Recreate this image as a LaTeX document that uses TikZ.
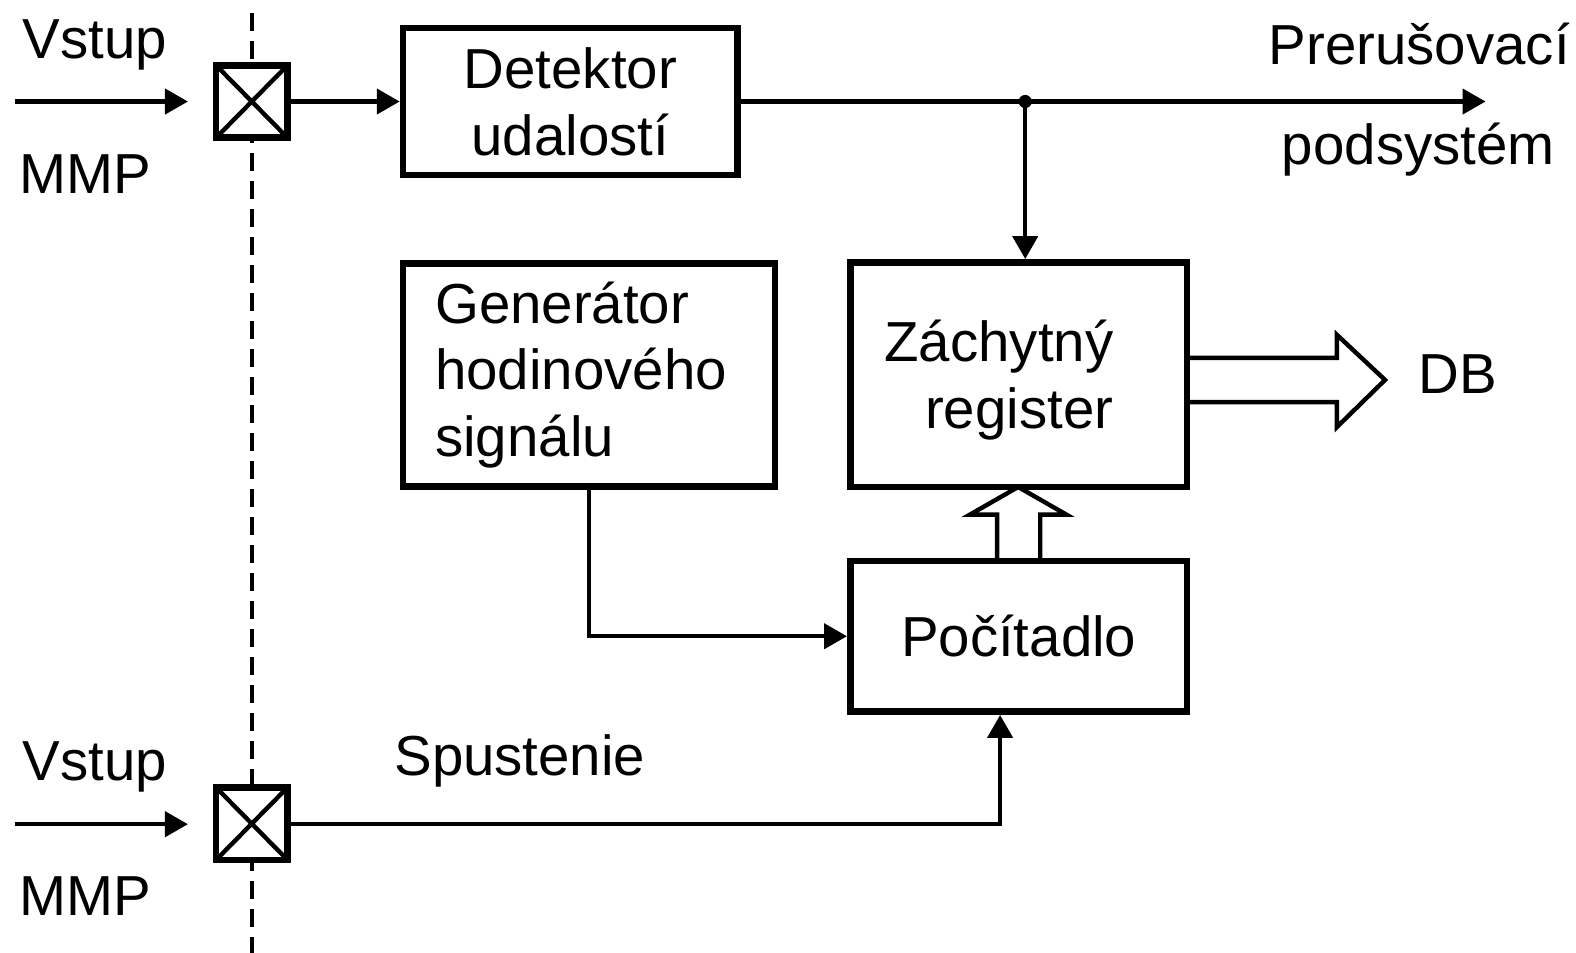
\documentclass[tikz,border=0pt]{standalone}
\usepackage{fontspec}
\setmainfont{Liberation Sans}
\usetikzlibrary{arrows.meta}
\newlength\pxu
\setlength\pxu{0.50255pt}
\begin{document}
\begin{tikzpicture}[x=0.50255pt, y=-0.50255pt,
  font=\fontsize{28.2pt}{33.4pt}\selectfont,
  box/.style={draw, line width=3.3pt, fill=white, inner sep=0pt},
  pinbox/.style={box, outer sep=0pt, minimum width=71\pxu, minimum height=72\pxu},
  wire/.style={line width=2.2pt},
  conn/.style={wire, -{Triangle[length=11.5pt,width=12.5pt]}},
  bus/.style={line width=2.2pt, line join=miter},
  lbl/.style={inner sep=0pt, anchor=base west}]
\useasboundingbox (0,0) rectangle (1568,948);

% boundary of the module (dashed)
\coordinate (dtop) at (250.5,13);
\coordinate (dbot) at (250.5,948);
\draw[wire, dash pattern=on 9pt off 5pt] (dtop) -- (dbot);

% input pins
\node[pinbox] (pin1) at (250.5,101) {};
\node[pinbox] (pin2) at (250.5,819.5) {};
\foreach \p in {pin1,pin2}
  \draw[wire] (\p.north west) -- (\p.south east) (\p.south west) -- (\p.north east);

% functional blocks
\node[box, minimum width=333\pxu, minimum height=146\pxu, align=center] (det) at (567.5,101) {Detektor\\udalostí};
\node[box, minimum width=370\pxu, minimum height=222\pxu, align=left, text width=306\pxu] (gen) at (586,373) {Generátor\\hodinového\\signálu};
\node[box, minimum width=335\pxu, minimum height=223.5\pxu] (reg) at (1013.5,372.75) {};
\node[inner sep=0pt, align=right, anchor=east] (regtxt) at (1108,378) {Záchytný\\register};
\node[box, minimum width=335\pxu, minimum height=150\pxu] (cnt) at (1013.5,633) {Počítadlo};

% labels
\node[lbl] (vin1) at (22,58) {Vstup};
\node[lbl] (mmp1) at (19,193) {MMP};
\node[lbl] (vin2) at (22,777) {Vstup};
\node[lbl] (mmp2) at (19,911) {MMP};
\node[lbl] (start) at (392,772) {Spustenie};
\node[lbl] (irq1) at (1262,64) {Prerušovací};
\node[lbl] (irq2) at (1275,164) {podsystém};
\node[lbl] (db) at (1411,391) {DB};

% signal connections
\coordinate (in1) at (15,101);
\coordinate (in1tip) at (187,101);
\coordinate (in2) at (15,820);
\coordinate (in2tip) at (187,820);
\draw[conn] (in1) -- (in1tip);
\draw[conn] (in2) -- (in2tip);
\draw[conn] (pin1.east) -- (det.west);

\coordinate (tap) at (1020,101);
\coordinate (irqtip) at (1478,101);
\draw[wire] (det.east) -- (tap);
\draw[conn] (tap) -- (irqtip);
\draw[conn] (tap) -- (tap |- reg.north);
\fill (tap) circle (3.3pt);

\draw[conn] (gen.south) |- (cnt.west);
\coordinate (spx) at (995,819.5);
\draw[conn] (pin2.east) -| (cnt.south -| spx);

% data buses (hollow arrows)
\draw[bus] (1181,356) -- (1330,356) -- (1330,333) -- (1378,378)
  -- (1330,425) -- (1330,400) -- (1181,400);
\draw[bus] (992,558) -- (992,512) -- (965,512) -- (1013,484.5)
  -- (1061,512) -- (1035,512) -- (1035,558);
\end{tikzpicture}
\end{document}
